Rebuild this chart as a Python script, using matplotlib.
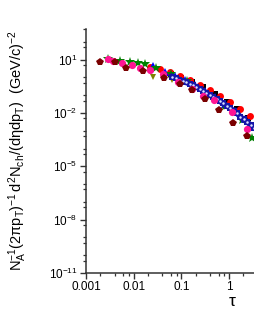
import matplotlib
matplotlib.use("Agg")
import matplotlib.pyplot as plt
from matplotlib.ticker import FixedLocator, FixedFormatter

plt.rcParams['font.family'] = ['Liberation Sans', 'DejaVu Sans']
plt.rcParams['mathtext.fontset'] = 'custom'
plt.rcParams['mathtext.rm'] = 'Liberation Sans'
plt.rcParams['mathtext.it'] = 'Liberation Sans'
plt.rcParams['mathtext.default'] = 'regular'

# ---- data (tau, yield) ----
pent_tau = [0.0020, 0.0041, 0.0070, 0.0159, 0.044, 0.095, 0.169, 0.317, 0.623, 1.22, 2.41, 4.6]
pent_y = [7.0, 7.0, 3.5, 2.4, 0.93, 0.44, 0.186, 0.061, 0.015, 0.0029, 5.2e-4, 1.0e-4]

pink_tau = [0.0029, 0.0036, 0.0058, 0.0094, 0.0138, 0.0223, 0.042, 0.086, 0.169, 0.288, 0.49, 1.17, 2.41]
pink_y = [10.5, 8.8, 6.8, 5.2, 3.5, 2.7, 1.63, 0.58, 0.23, 0.094, 0.056, 0.0118, 0.0013]

red_tau = [0.0223, 0.0361, 0.0585, 0.0948, 0.154, 0.249, 0.404, 0.654, 1.06, 1.72, 2.78, 4.51]
red_y = [4.0, 3.1, 2.1, 1.26, 0.75, 0.39, 0.204, 0.094, 0.043, 0.0163, 0.0070, 0.0025]

star_tau = [0.0029, 0.0052, 0.0085, 0.0125, 0.0175, 0.030, 0.06, 0.13, 0.30, 0.83, 1.89, 3.06]
star_y = [10.7, 8.2, 7.2, 6.4, 6.0, 3.3, 1.6, 0.6, 0.13, 0.0256, 0.0042, 4.0e-4]

olive_tau = [0.0258, 0.064, 0.15, 0.35, 0.8, 1.7, 3.2]
olive_y = [1.1, 0.75, 0.33, 0.10, 0.022, 0.006, 0.0018]

black_tau = [0.06, 0.10, 0.17, 0.29, 0.50, 0.90, 1.5, 2.5, 4.0]
black_y = [1.6, 0.95, 0.55, 0.28, 0.11, 0.04, 0.016, 0.005, 0.0017]

tri_tau = [0.025, 0.046, 0.0745, 0.121, 0.196, 0.317, 0.514, 0.83, 1.35, 2.19, 3.54]
tri_y = [4.2, 2.1, 1.26, 0.75, 0.39, 0.18, 0.082, 0.033, 0.0134, 0.0047, 0.0017]

dot_tau = [0.065, 0.0766, 0.090, 0.106, 0.125, 0.148, 0.174, 0.205, 0.241, 0.284,
           0.335, 0.394, 0.465, 0.547, 0.645, 0.760, 0.895, 1.05, 1.24, 1.46,
           1.72, 2.03, 2.39, 2.82, 3.32, 3.91, 4.6]
dot_y = [1.10, 0.91, 0.75, 0.62, 0.52, 0.44, 0.36, 0.286, 0.23, 0.177,
         0.133, 0.101, 0.077, 0.059, 0.044, 0.034, 0.0253, 0.0188, 0.0134, 0.0097,
         0.0061, 0.0043, 0.0031, 0.0021, 0.0015, 0.00105, 0.00074]

y_major = [1e-11, 1e-8, 1e-5, 1e-2, 1e1]
y_labels = ['10$^{-11}$', '10$^{-8}$', '10$^{-5}$', '10$^{-2}$', '10$^{1}$']
x_major = [0.001, 0.01, 0.1, 1]
x_labels = ['0.001', '0.01', '0.1', '1']

fig = plt.figure(figsize=(2.55, 3.30), dpi=100)
ax = fig.add_axes([86/255, 57/330, 190.8/255, 244/330])

ax.plot(black_tau, black_y, 's', color='black', ms=4, mew=0)
ax.plot(red_tau, red_y, 'o', color='#ff0000', ms=5, mew=0)
ax.plot(olive_tau, olive_y, 'v', color='#808000', ms=5, mew=0)
ax.plot(tri_tau, tri_y, '^', color='#0000ff', ms=5.8, mew=0)
ax.plot(star_tau, star_y, '*', color='#008000', ms=7, mew=0)
ax.plot(dot_tau, dot_y, '-s', color='#1515a8', lw=4, ms=4.8, mew=0)
ax.plot(dot_tau, dot_y, 'o', color='#dde4ff', ms=1.8, mew=0)
ax.plot(pink_tau, pink_y, 'o', color='#ff1493', ms=5.2, mew=0)
ax.plot(pent_tau, pent_y, 'p', color='#7a0000', ms=5.6, mew=0)

ax.set_xscale('log')
ax.set_yscale('log')
ax.set_xlim(0.001, 10)
ax.set_ylim(1e-11, 10**2.72)

ax.yaxis.set_major_locator(FixedLocator(y_major))
ax.yaxis.set_major_formatter(FixedFormatter(y_labels))
ax.yaxis.set_minor_locator(FixedLocator([m * 10.0**e for e in range(-11, 3) for m in (1, 5)]))
ax.xaxis.set_major_locator(FixedLocator(x_major))
ax.xaxis.set_major_formatter(FixedFormatter(x_labels))
ax.xaxis.set_minor_locator(FixedLocator([m * 10.0**e for e in range(-3, 1) for m in (2, 4, 6, 8)]))
ax.yaxis.set_minor_formatter(plt.NullFormatter())
ax.xaxis.set_minor_formatter(plt.NullFormatter())

ax.tick_params(which='major', direction='out', length=4, width=1, labelsize=8.5, color='#333333', pad=2)
ax.tick_params(which='minor', direction='out', length=2.5, width=0.9, color='#333333')
for s in ('top', 'right'):
    ax.spines[s].set_visible(False)
for s in ('left', 'bottom'):
    ax.spines[s].set_linewidth(1.1)
    ax.spines[s].set_color('#333333')

fig.text(18/255, 1 - 150/330,
         r'$N_A^{-1}(2\pi p_T)^{-1}\,d^2N_{ch}/(d\eta dp_T)$  (GeV/c)$^{-2}$',
         rotation=90, ha='center', va='center', fontsize=10.5)
fig.text(232/255, 1 - 306/330, r'$\tau$', ha='center', va='baseline', fontsize=12.5)

fig.savefig('out.png', dpi=100)
